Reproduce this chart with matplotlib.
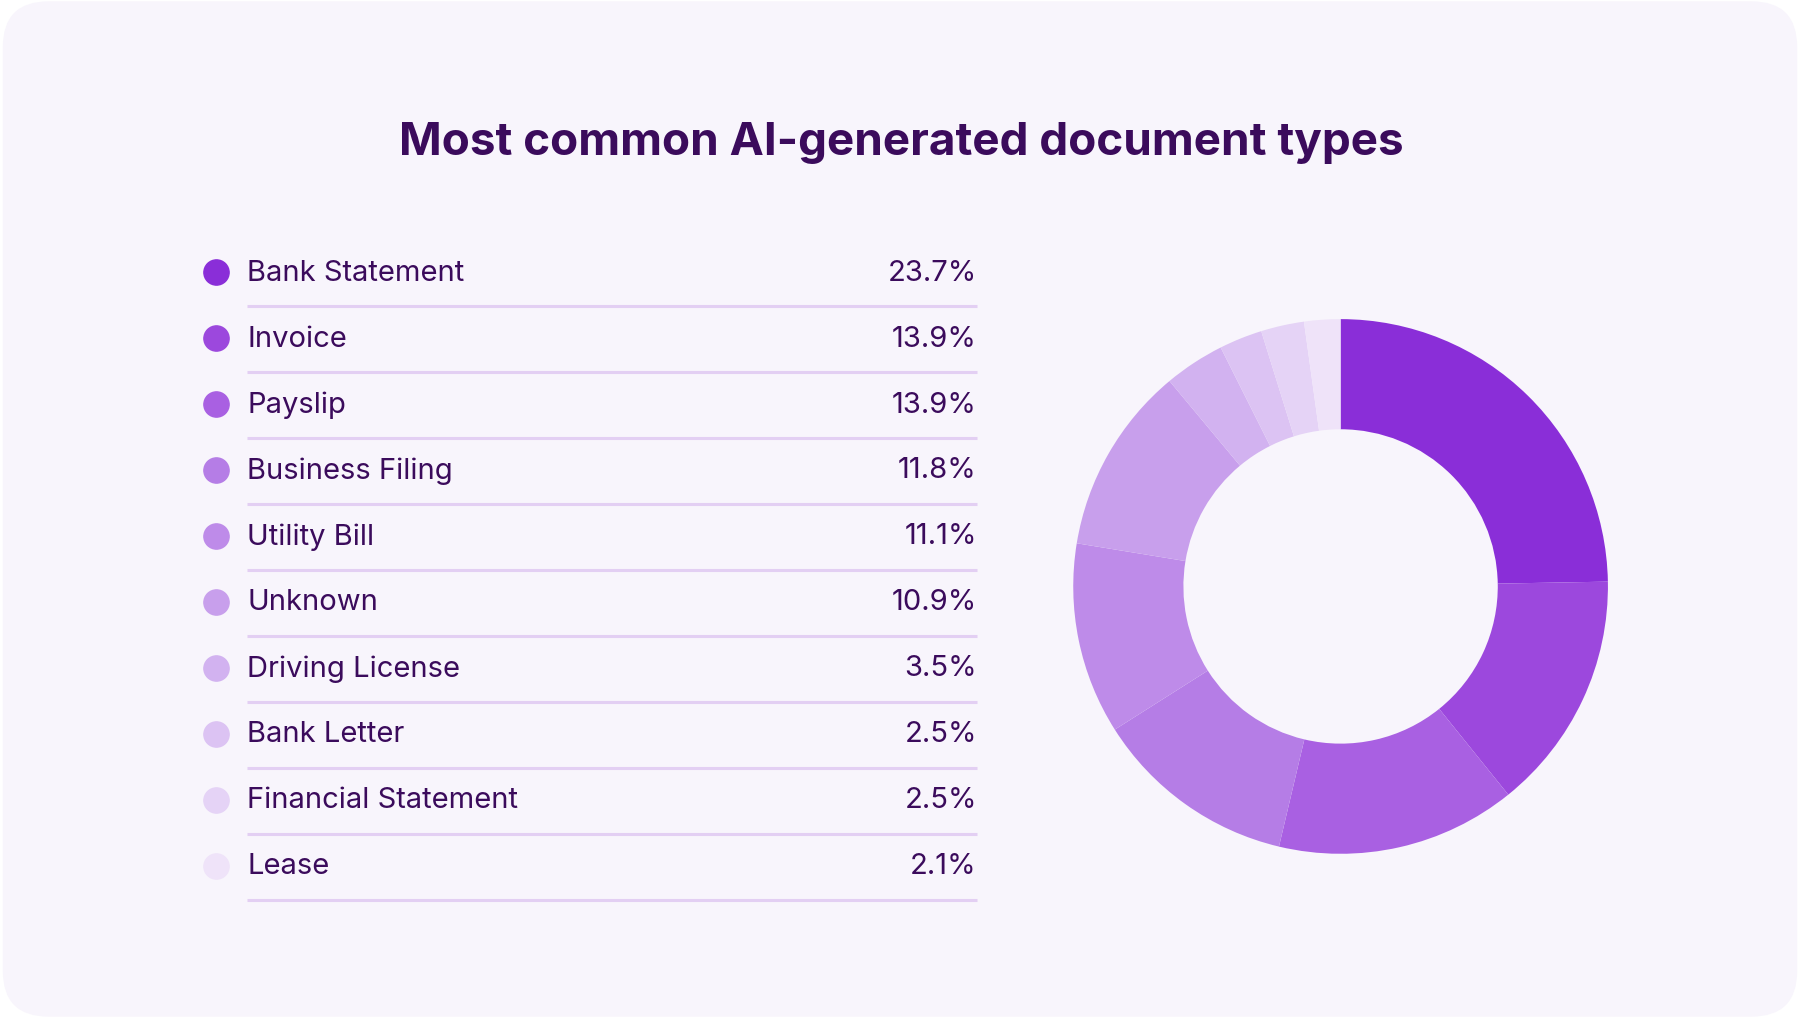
import matplotlib.pyplot as plt
from matplotlib.patches import FancyBboxPatch
from matplotlib.colors import to_rgb
import numpy as np

categories = ["Bank Statement", "Invoice", "Payslip", "Business Filing", "Utility Bill",
              "Unknown", "Driving License", "Bank Letter", "Financial Statement", "Lease"]
shares = [23.7, 13.9, 13.9, 11.8, 11.1, 10.9, 3.5, 2.5, 2.5, 2.1]
value_labels = ["23.7%", "13.9%", "13.9%", "11.8%", "11.1%", "10.9%", "3.5%", "2.5%", "2.5%", "2.1%"]
colors = ["#8A2ED8", "#9C48DD", "#A960E2", "#B57DE6", "#BE8BE9",
          "#C89FEC", "#D2B2F0", "#DCC3F3", "#E5D3F6", "#EFE3F9"]

text_color = "#3B0B5C"
plt.rcParams['font.family'] = ['Inter', 'DejaVu Sans']

fig = plt.figure(figsize=(18, 10.2), dpi=100)
fig.patch.set_facecolor("white")
ax = fig.add_axes([0, 0, 1, 1])
ax.set_xlim(0, 1568)
ax.set_ylim(889, 0)
ax.axis("off")

# rounded card background
ax.add_patch(FancyBboxPatch((2, 2), 1564, 885, boxstyle="round,pad=0,rounding_size=40",
                            facecolor="#F8F5FC", edgecolor="none"))

ax.text(785, 125, "Most common AI-generated document types", ha="center", va="center",
        fontsize=33, fontweight="bold", color=text_color)

row_y0, row_step = 238, 57.5
for i, (cat, lab, c) in enumerate(zip(categories, value_labels, colors)):
    y = row_y0 + i * row_step
    ax.scatter([188], [y], s=330, color=c, zorder=3)
    ax.text(215, y, cat, ha="left", va="center", fontsize=21, color=text_color)
    ax.text(851, y, lab, ha="right", va="center", fontsize=21, color=text_color)
    ax.plot([215, 851], [y + 30, y + 30], color="#E3CFF3", lw=2.2, solid_capstyle="butt")

ax.pie(shares, colors=colors, center=(1168, 512), radius=233, startangle=-90,
       counterclock=True, wedgeprops=dict(width=233 - 137, edgecolor="none"),
       frame=True)
ax.set_xlim(0, 1568)
ax.set_ylim(889, 0)
ax.set_aspect("equal")
ax.axis("off")

fig.savefig("out.png", dpi=100, facecolor=fig.get_facecolor())
